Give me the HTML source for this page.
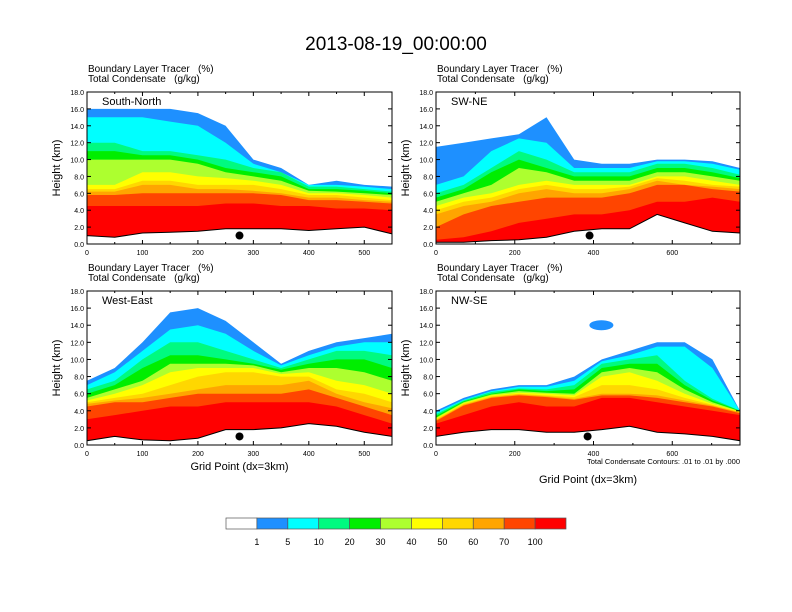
<!DOCTYPE html>
<html><head><meta charset="utf-8"><style>
body{margin:0;background:#fff}
svg{display:block;font-family:"Liberation Sans",sans-serif}
</style></head><body>
<svg id="fig" width="792" height="612" viewBox="0 0 792 612">
<text x="396" y="50" font-size="19" text-anchor="middle">2013-08-19_00:00:00</text>
<g id="panels"></g>
<g id="cbar"></g>
</svg>
<script>
const levelLabels=["1","5","10","20","30","40","50","60","70","100"];
const levelColors=["#1e90ff","#00ffff","#00fa80","#00ee00","#adff2f","#ffff00","#ffd700","#ffa500","#ff4500","#ff0000"];
const p1Tops=[
[16,16,16,16,15.5,14,10,9,7,7.5,7,6.8],
[15,15,15,14.5,14,12,9.5,8.5,7,7,6.8,6.5],
[12,12,11,11,10.5,10,9,8.5,6.8,6.8,6.5,6.2],
[11,11,10.5,10.5,10,9,8.5,8,6.5,6.5,6.3,6],
[10,10,10,10,9.5,8.5,8,7.5,6.3,6.2,6,5.8],
[7,7,8.5,8.5,8,7.8,7.5,7,6,6,5.8,5.5],
[6.5,6.5,7.5,7.5,7,7,7,6.5,5.8,5.8,5.5,5.2],
[6.2,6.2,7,7,6.5,6.5,6.3,6,5.5,5.5,5.2,5],
[5.8,5.8,6,6,6,6,6,5.8,5.2,5.2,5,4.8],
[4.5,4.5,4.5,4.5,4.5,4.8,4.8,4.5,4.5,4.2,4.2,4]];
const p1Ground=[1,0.8,1.3,1.4,1.5,1.8,1.8,1.8,1.6,1.8,2,1.2];
const p2Tops=[
[11.5,12,12.5,13,15,10,9.5,9.5,10,10,9.8,9],
[7,8,11,12.5,12,9,9,9,9.8,9.8,9.5,8.8],
[6,7,9,11,10,8.5,8.5,8.5,9.5,9.5,9,8.2],
[5.5,6.5,8.5,10,9,8,8,8,9,9,8.5,7.8],
[5,6,7,9,8.5,7.5,7.5,7.5,8.5,8.5,8,7.5],
[4.5,5.5,6,7,7.5,7,7,7,8,8,7.5,7],
[4,5,5.5,6.5,7,6.5,6.5,6.8,7.8,7.5,7,6.8],
[3.5,4.5,5,6,6.5,6,6,6.5,7.5,7,6.8,6.5],
[2,3.5,4.5,5,5.5,5.5,5.5,6,7,7,6.5,6.2],
[0.5,0.8,1.5,2.5,3,3.5,3.5,4,5,5,5.5,5]];
const p2Ground=[0.2,0.2,0.4,0.5,0.8,1.5,1.8,1.8,3.5,2.5,1.5,1.3];
const p3Tops=[
[7.5,9,12,15.5,16,14.5,12,9.5,11,12,12.5,13],
[7,8.5,11,13.5,14,13,11,9.3,10.5,11.5,12,12],
[6.5,7.5,10,12,12,11,10,9,10,11,11,10.5],
[6,7,9,10.5,10.5,10,9.5,8.8,9.5,10,10,9],
[5.5,6.5,7.5,9.5,9.5,9.5,9.3,8.5,9,9,8.5,7.5],
[5.2,6,7,8.5,9,9,9,8.3,8.5,7.5,7,6],
[5,5.5,6,7,8,8.5,8.5,8,8,6.5,6,5],
[4.8,5.2,5.5,6,6.5,7,7,7,7.5,6,5,4.3],
[4.5,5,5,5.5,6,6,6,6,6.5,5.5,4.5,3.5],
[3,3.5,4,4.5,4.5,5,5,5,5,4.5,3.5,2.5]];
const p3Ground=[0.5,1,0.6,0.5,0.8,1.8,1.8,2,2.5,2.2,1.5,1.0];
const p4Tops=[
[4,5.5,6.5,7,7,8,10,11,12,12,10,4],
[3.8,5.3,6.3,6.8,6.8,7.5,9.8,10.5,11.5,11.5,9,4],
[3.6,5.2,6.2,6.6,6.5,7,9.5,10,10.5,7.5,5.4,4],
[3.4,5.1,6,6.5,6.3,6.5,9,9.5,9.5,7,5.2,4],
[3.2,5,5.9,6.3,6.1,6,8.5,9,8.5,6.5,5,3.95],
[3.1,4.9,5.8,6.1,6,5.8,8,8.5,7.5,6,4.8,3.9],
[3,4.8,5.7,6,5.8,5.6,7,7,6.5,5.5,4.7,3.85],
[2.9,4.7,5.6,5.9,5.7,5.4,6,6,5.8,5.2,4.6,3.8],
[2.8,4.6,5.5,5.8,5.6,5.3,5.8,5.8,5.5,5,4.5,3.7],
[2.5,3.5,4.5,5,4.5,4.5,5.5,5.5,5,4.5,4,3.5]];
const p4Ground=[1,1.5,1.8,1.8,1.5,1.5,1.8,2.2,1.5,1.3,1,0.5];

const NS="http://www.w3.org/2000/svg";
function mk(tag,attrs,parent){const e=document.createElementNS(NS,tag);for(const k in attrs)e.setAttribute(k,attrs[k]);parent.appendChild(e);return e;}
const panels=[
 {name:"south-north",label:"South-North",x0:87,y0:92,w:305,h:152,xmax:550,step:100,tops:p1Tops,ground:p1Ground,dot:275,xt:false},
 {name:"sw-ne",label:"SW-NE",x0:436,y0:92,w:304,h:152,xmax:772,step:200,tops:p2Tops,ground:p2Ground,dot:390,xt:false},
 {name:"west-east",label:"West-East",x0:87,y0:291,w:305,h:154,xmax:550,step:100,tops:p3Tops,ground:p3Ground,dot:275,xt:true},
 {name:"nw-se",label:"NW-SE",x0:436,y0:291,w:304,h:154,xmax:772,step:200,tops:p4Tops,ground:p4Ground,dot:385,xt:true}];
const root=document.getElementById('panels');
panels.forEach((p,pi)=>{
 const g=mk('g',{},root);
 
 
 const n=p.ground.length;
 const xs=i=>p.xmax*i/(n-1);
 const X=v=>p.x0+v/p.xmax*p.w;
 const Y=v=>p.y0+p.h-v/18*p.h;
 mk('text',{x:p.x0+1,y:p.y0-20,'font-size':10},g).textContent="Boundary Layer Tracer\u00a0\u00a0\u00a0(%)";
 mk('text',{x:p.x0+1,y:p.y0-10,'font-size':10},g).textContent="Total Condensate\u00a0\u00a0\u00a0(g/kg)";
 p.tops.forEach((row,k)=>{
  let d="M"+X(0)+","+Y(0);
  row.forEach((v,i)=>{d+=" L"+X(xs(i)).toFixed(1)+","+Y(v).toFixed(1);});
  d+=" L"+X(p.xmax)+","+Y(0)+"Z";
  const path=mk('path',{d:d,fill:levelColors[k]},g);
  
  
 });
 if(pi===3){
  const b=mk('ellipse',{cx:X(420),cy:Y(14),rx:12,ry:5,fill:levelColors[0]},g);
  
  
 }
 let gd="M"+X(0)+","+Y(0);
 p.ground.forEach((v,i)=>{gd+=" L"+X(xs(i)).toFixed(1)+","+Y(v).toFixed(1);});
 gd+=" L"+X(p.xmax)+","+Y(0)+"Z";
 const gp=mk('path',{d:gd,fill:"#fff",stroke:"#000","stroke-width":1},g);
 
 
 const dot=mk('circle',{cx:X(p.dot),cy:Y(1),r:4,fill:"#000"},g);
 
 
 mk('rect',{x:p.x0,y:p.y0,width:p.w,height:p.h,fill:"none",stroke:"#000","stroke-width":1},g);
 mk('text',{x:p.x0+15,y:p.y0+13,'font-size':11},g).textContent=p.label;
 for(let v=0;v<=18;v+=2){
  const y=Y(v);
  mk('line',{x1:p.x0,x2:p.x0+4,y1:y,y2:y,stroke:"#000"},g);
  mk('line',{x1:p.x0+p.w,x2:p.x0+p.w-4,y1:y,y2:y,stroke:"#000"},g);
  mk('text',{x:p.x0-3,y:y+3,'font-size':7,'text-anchor':'end'},g).textContent=v.toFixed(1);
 }
 for(let v=0;v<=p.xmax;v+=p.step/2){
  const x=X(v), major=(v%p.step===0);
  mk('line',{x1:x,x2:x,y1:p.y0+p.h,y2:p.y0+p.h-(major?4:2),stroke:"#000"},g);
  mk('line',{x1:x,x2:x,y1:p.y0,y2:p.y0+(major?4:2),stroke:"#000"},g);
  if(major) mk('text',{x:x,y:p.y0+p.h+11,'font-size':7,'text-anchor':'middle'},g).textContent=v;
 }
 const yt=mk('text',{x:0,y:0,'font-size':11,'text-anchor':'middle',transform:`translate(${p.x0-27},${p.y0+p.h/2}) rotate(-90)`},g);
 yt.textContent="Height (km)";
 
 
 if(p.xt){
  const xl=mk('text',{x:p.x0+p.w/2,y:pi===3?483:470,'font-size':11,'text-anchor':'middle'},g);
  xl.textContent="Grid Point (dx=3km)";
  
  
 }
 if(pi===3){
  const nt=mk('text',{x:p.x0+p.w,y:464,'font-size':7.5,'text-anchor':'end'},g);
  nt.textContent="Total Condensate Contours: .01 to .01 by .000";
  
  
 }
});
const cb=document.getElementById('cbar');
const cbColors=["#ffffff"].concat(levelColors);
const bw=340/11;
cbColors.forEach((c,i)=>{
 const r=mk('rect',{x:226+i*bw,y:518,width:bw,height:11,fill:c,stroke:"#555","stroke-width":0.7},cb);
 
 
});
levelLabels.forEach((l,i)=>{
 const t=mk('text',{x:226+(i+1)*bw,y:545,'font-size':9,'text-anchor':'middle'},cb);
 t.textContent=l;
 
 
});
</script>
</body></html>
